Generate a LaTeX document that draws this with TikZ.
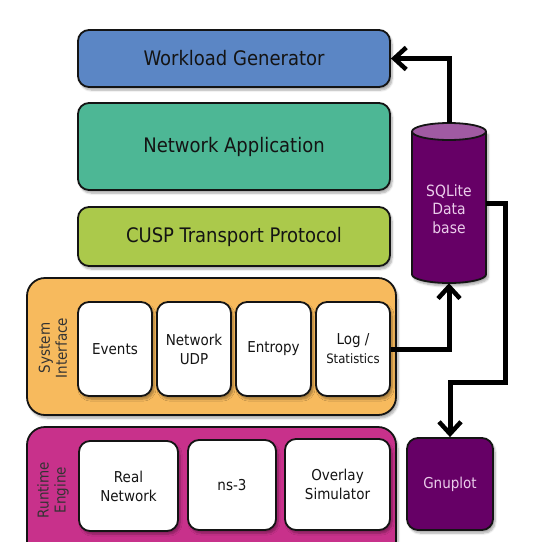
\documentclass[tikz,border=0pt]{standalone}
\usepackage{fontspec}
\setmainfont{DejaVu Sans Condensed}
\usetikzlibrary{arrows.meta,shadows.blur}

\definecolor{wgblue}{HTML}{5B86C5}
\definecolor{appteal}{HTML}{4DB795}
\definecolor{cusplime}{HTML}{ABC94B}
\definecolor{sysorange}{HTML}{F7BA5D}
\definecolor{rtmagenta}{HTML}{C8318B}
\definecolor{dbpurple}{HTML}{660066}
\definecolor{dbtop}{HTML}{A05AA2}
\definecolor{dblabel}{HTML}{EBCDEB}
\definecolor{ink}{HTML}{141414}

\tikzset{
  soft/.style={blur shadow={shadow xshift=2pt, shadow yshift=-3pt,
      shadow blur steps=6, shadow opacity=35}},
  layer/.style={draw=ink, line width=1.8pt, rounded corners=11pt, soft,
      inner sep=0pt, text=ink, font=\fontsize{20}{24}\selectfont},
  group/.style={draw=ink, line width=1.8pt, rounded corners=18pt, soft},
  part/.style={draw=ink, line width=1.8pt, rounded corners=11pt, fill=white, soft,
      inner sep=0pt, align=center, text=ink, font=\fontsize{15}{19}\selectfont},
  grouplabel/.style={rotate=90, align=center, text=black!80,
      font=\fontsize{15}{17}\selectfont},
  link/.style={line width=5pt, black, line join=miter,
      -{Straight Barb[length=12pt,width=22pt,line width=4.5pt]}}
}

\begin{document}
\begin{tikzpicture}[x=1pt,y=-1pt]
\useasboundingbox (0,0) rectangle (548,541);

% upper protocol layers
\node[layer, fill=wgblue, minimum width=312pt, minimum height=57pt]
  (wg) at (234,58.5) {Workload Generator};
\node[layer, fill=appteal, minimum width=312pt, minimum height=87pt]
  (na) at (234,146.5) {Network Application};
\node[layer, fill=cusplime, minimum width=312pt, minimum height=59pt]
  (cusp) at (234,236.5) {CUSP Transport Protocol};

% system interface group
\node[group, fill=sysorange, minimum width=369pt, minimum height=137pt]
  (sys) at (211.5,346.5) {};
\node[grouplabel] (syslab) at (53,348) {System\\Interface};
\node[part, minimum width=74pt, minimum height=94pt] (ev) at (115,349) {Events};
\node[part, minimum width=74pt, minimum height=94pt] (udp) at (194,349) {Network\\UDP};
\node[part, minimum width=75pt, minimum height=94pt] (ent) at (273.5,349) {Entropy};
\node[part, minimum width=74pt, minimum height=94pt] (log) at (353,349)
  {Log /\\{\fontsize{13}{16}\selectfont Statistics}};

% runtime engine group
\node[group, fill=rtmagenta, minimum width=369pt, minimum height=150pt]
  (rt) at (211.5,502) {};
\node[grouplabel] (rtlab) at (53,490) {Runtime\\Engine};
\node[part, minimum width=99pt, minimum height=90pt] (real) at (128.5,486) {Real\\Network};
\node[part, minimum width=88pt, minimum height=90pt] (ns) at (232,485) {ns-3};
\node[part, minimum width=105pt, minimum height=91pt] (ovl) at (337.5,484.5) {Overlay\\Simulator};

% plotting tool
\node[part, fill=dbpurple, text=dblabel, minimum width=86pt, minimum height=92pt]
  (gp) at (450,484) {Gnuplot};

% SQLite database cylinder
\node[minimum width=74pt, minimum height=160pt, inner sep=0pt] (db) at (449,203) {};
\path[soft, fill=dbpurple] (412,131.5) -- (412,274.5)
  arc[start angle=180, end angle=360, x radius=37pt, y radius=8.5pt]
  -- (486,131.5) -- cycle;
\draw[draw=ink, line width=1.8pt, fill=dbpurple] (412,131.5) -- (412,274.5)
  arc[start angle=180, end angle=360, x radius=37pt, y radius=8.5pt]
  -- (486,131.5);
\draw[draw=ink, line width=1.8pt, fill=dbtop] (449,131.5)
  ellipse[x radius=37pt, y radius=8.5pt];
\node[align=center, text=dblabel, font=\fontsize{15.5}{18.5}\selectfont]
  (dblab) at (449,209) {SQLite\\Data\\base};

% data flow
\coordinate (bend) at (505,382);
\draw[link] (db.north) |- (wg.east);
\draw[link] (log.east) -| (db.south);
\draw[link] (db.east) -| (bend) -| (gp.north);
\end{tikzpicture}
\end{document}
